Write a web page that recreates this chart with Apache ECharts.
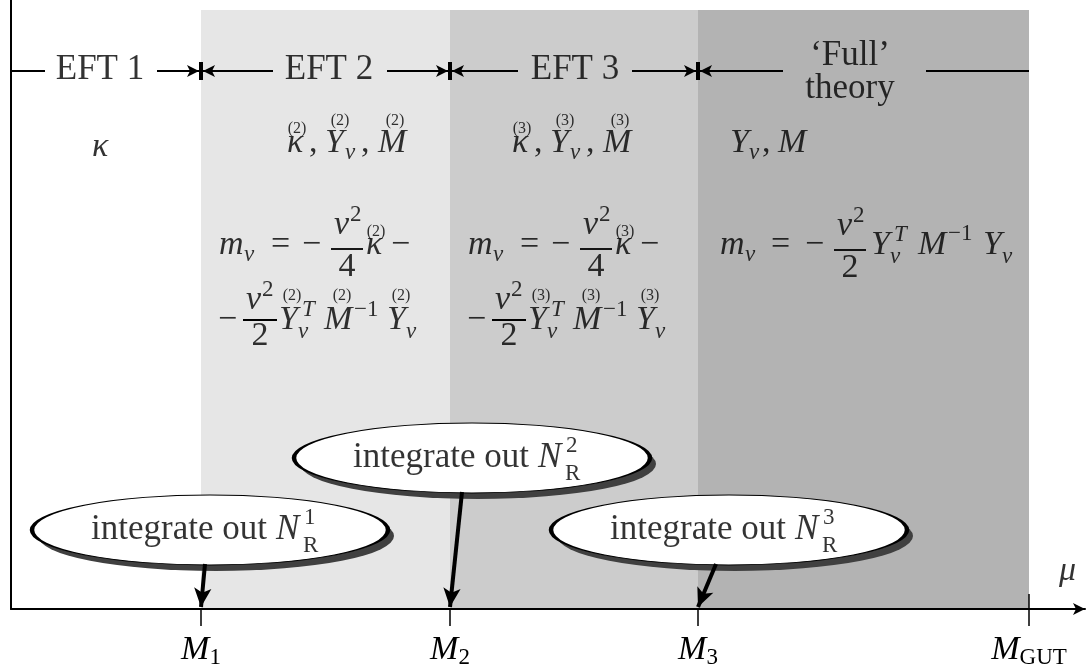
<!DOCTYPE html>
<html><head><meta charset="utf-8">
<script src="https://cdn.jsdelivr.net/npm/echarts@6/dist/echarts.min.js"></script>
<style>html,body{margin:0;padding:0;background:#fff}#c{width:1092px;height:666px}</style>
</head><body><div id="c"></div>
<script>
// ---------------- data ----------------
const thresholdSub = ['1', '2', '3', 'GUT'];          // M_1, M_2, M_3, M_GUT
const thresholdPos = [201, 450, 698, 1029];           // positions on the mu axis
const regionNames = ['EFT 1', 'EFT 2', 'EFT 3', '\u2018Full\u2019\ntheory'];
const regionTags = ['', '(2)', '(3)', ''];
const integratedOut = ['1', '2', '3'];                // N_R^i
const axisMin = 11, axisMax = 1085, plotBottom = 609, bandTop = 10;

// ---------------- style / layout ----------------
const F = 'Liberation Serif';
const S = 34, SS = 23, SA = 16, HS = 35;
const shades = ['#e6e6e6', '#cccccc', '#b3b3b3'];

const texts = [];
function put(txt, x, y, size, o) {
  o = o || {};
  texts.push({
    value: [x, y],
    label: {
      show: true, position: 'inside', formatter: txt,
      fontFamily: F, fontSize: size, fontStyle: o.it ? 'italic' : 'normal',
      color: '#000', align: o.align || 'left', verticalAlign: 'middle',
      lineHeight: o.lh || Math.round(size * 1.2), textBorderWidth: 0
    }
  });
}
function tb(txt, x, base, size, o) { put(txt, x, base - 0.34 * size, size, o); }

const segs = [];
function seg(x1, y1, x2, y2, w, arrow, asz) {
  segs.push([
    { coord: [x1, y1], symbol: 'none', lineStyle: { width: w, color: '#000', type: 'solid', cap: 'butt' } },
    { coord: [x2, y2], symbol: arrow ? 'arrow' : 'none', symbolSize: asz || 0 }
  ]);
}

// header row
const ROW = 71;
const AH = [9, 12];
seg(axisMin, ROW, 45, ROW, 2);
const inStart = [157, 387, 632], outEnd = [273, 518, 783];
for (let i = 0; i < 3; i++) {
  const p = thresholdPos[i];
  seg(inStart[i], ROW, p - 2, ROW, 2, true, AH);
  seg(p, 62, p, 80, 4);
  seg(outEnd[i], ROW, p + 2, ROW, 2, true, AH);
}
seg(926, ROW, thresholdPos[3], ROW, 2);
const headX = [100, 329, 575, 850];
regionNames.forEach((n, i) => {
  if (i < 3) put(n, headX[i], ROW - 1, HS, { align: 'center' });
  else put(n, headX[i], ROW + 1, HS, { align: 'center', lh: 33 });
});

// EFT 1
tb('\u03ba', 92, 159, S, { it: 1 });

// EFT 2 / EFT 3 blocks
function eftBlock(tag, d2, d) {
  // couplings
  tb('\u03ba', 287 + d2, 155, S, { it: 1 }); tb(tag, 297 + d2, 134, SA, { align: 'center' });
  tb(',', 309 + d2, 155, S);
  tb('Y', 325 + d2, 155, S, { it: 1 }); tb(tag, 340 + d2, 126, SA, { align: 'center' });
  tb('\u03bd', 345 + d2, 161, SS, { it: 1 });
  tb(',', 361 + d2, 155, S);
  tb('M', 378 + d2, 155, S, { it: 1 }); tb(tag, 395 + d2, 126, SA, { align: 'center' });
  // m_nu = -v^2/4 kappa -
  tb('m', 219 + d, 257, S, { it: 1 }); tb('\u03bd', 244 + d, 263, SS, { it: 1 });
  tb('=', 271 + d, 257, S);
  tb('\u2212', 302 + d, 257, S);
  seg(331 + d, 249, 363 + d, 249, 1.8);
  tb('v', 334 + d, 237, S, { it: 1 }); tb('2', 350 + d, 223, SS);
  tb('4', 347 + d, 279, S, { align: 'center' });
  tb('\u03ba', 366 + d, 257, S, { it: 1 }); tb(tag, 376 + d, 237, SA, { align: 'center' });
  tb('\u2212', 391 + d, 257, S);
  // - v^2/2 Y^T M^-1 Y
  tb('\u2212', 218 + d, 332, S);
  seg(243 + d, 320, 277 + d, 320, 1.8);
  tb('v', 246 + d, 312, S, { it: 1 }); tb('2', 262 + d, 298, SS);
  tb('2', 260 + d, 348, S, { align: 'center' });
  tb('Y', 279 + d, 332, S, { it: 1 }); tb(tag, 292 + d, 301, SA, { align: 'center' });
  tb('T', 302 + d, 318, SS, { it: 1 }); tb('\u03bd', 298 + d, 340, SS, { it: 1 });
  tb('M', 324 + d, 332, S, { it: 1 }); tb(tag, 342 + d, 301, SA, { align: 'center' });
  tb('\u22121', 354 + d, 318, SS);
  tb('Y', 387 + d, 332, S, { it: 1 }); tb(tag, 401 + d, 301, SA, { align: 'center' });
  tb('\u03bd', 406 + d, 340, SS, { it: 1 });
}
eftBlock(regionTags[1], 0, 0);
eftBlock(regionTags[2], 225, 249);

// Full theory
tb('Y', 730, 155, S, { it: 1 }); tb('\u03bd', 749, 161, SS, { it: 1 });
tb(',', 762, 155, S); tb('M', 778, 155, S, { it: 1 });
tb('m', 720, 257, S, { it: 1 }); tb('\u03bd', 745, 263, SS, { it: 1 });
tb('=', 771, 257, S); tb('\u2212', 805, 257, S);
seg(834, 250, 866, 250, 1.8);
tb('v', 837, 238, S, { it: 1 }); tb('2', 853, 224, SS);
tb('2', 850, 280, S, { align: 'center' });
tb('Y', 871, 257, S, { it: 1 }); tb('T', 894, 243, SS, { it: 1 }); tb('\u03bd', 890, 265, SS, { it: 1 });
tb('M', 918, 257, S, { it: 1 }); tb('\u22121', 948, 242, SS);
tb('Y', 983, 257, S, { it: 1 }); tb('\u03bd', 1002, 265, SS, { it: 1 });

// mu label
tb('\u03bc', 1059, 583, S, { it: 1 });

// MGUT upper tick, axis break
seg(thresholdPos[3], 594, thresholdPos[3], plotBottom, 1.5);
seg(116, 591, 105, 629, 2.5);
seg(136, 591, 125, 629, 2.5);

// ellipses
const ellC = [[210, 530], [472, 458], [729, 530]];
const ellW = 356, ellH = 70;
const ES = 35;
ellC.forEach((c, i) => {
  const cx = c[0], cy = c[1];
  tb('integrate out', cx - 119, cy + 12, ES);
  tb('N', cx + 66, cy + 12, ES, { it: 1 });
  tb(integratedOut[i], cx + 94, cy - 4, SS);
  tb('R', cx + 93, cy + 24, SS);
});
// arrows from ellipses to thresholds
const arrowStart = [[205, 564], [462, 492], [716, 564]];
for (let i = 0; i < 3; i++) {
  seg(arrowStart[i][0], arrowStart[i][1], thresholdPos[i], 607, 4, true, [13, 19]);
}

// shading bands
const bands = [];
for (let i = 0; i < 3; i++) {
  bands.push([
    { xAxis: thresholdPos[i], yAxis: bandTop, itemStyle: { color: shades[i] } },
    { xAxis: thresholdPos[i + 1], yAxis: plotBottom }
  ]);
}

const ellPath = 'path://M0,35A178,35,0,1,1,356,35A178,35,0,1,1,0,35Z';
const chart = echarts.init(document.getElementById('c'), null, { renderer: 'canvas' });
chart.setOption({
  animation: false,
  backgroundColor: '#fff',
  grid: { left: axisMin, right: 1092 - axisMax, top: 0, bottom: 666 - plotBottom, containLabel: false, outerBoundsMode: 'none' },
  xAxis: {
    type: 'value', min: axisMin, max: axisMax, z: 3,
    splitLine: { show: false },
    axisLine: { show: true, onZero: false, symbol: ['none', 'arrow'], symbolSize: [9, 12], lineStyle: { color: '#000', width: 2 } },
    axisTick: { show: true, customValues: thresholdPos, length: 17, lineStyle: { color: '#000', width: 1.5 } },
    axisLabel: {
      show: true, customValues: thresholdPos, margin: 22,
      formatter: function (v) { const i = thresholdPos.indexOf(v); return '{i|M}{s|' + thresholdSub[i] + '}'; },
      rich: {
        i: { fontFamily: F, fontStyle: 'italic', fontSize: S, lineHeight: 38, color: '#000' },
        s: { fontFamily: F, fontSize: SS, lineHeight: 18, verticalAlign: 'bottom', color: '#000' }
      }
    }
  },
  yAxis: {
    type: 'value', min: 0, max: plotBottom, inverse: true, z: 3,
    splitLine: { show: false }, axisTick: { show: false }, axisLabel: { show: false },
    axisLine: { show: true, onZero: false, lineStyle: { color: '#000', width: 2 } }
  },
  series: [
    {
      type: 'scatter', name: 'bands', data: [], silent: true, z: 1,
      markArea: { silent: true, label: { show: false }, data: bands }
    },
    {
      type: 'scatter', name: 'ellipse shadows', silent: true, z: 2, clip: false,
      symbol: ellPath, symbolSize: [ellW, ellH], symbolOffset: [6, 6],
      itemStyle: { color: '#404040', borderWidth: 0, opacity: 1 },
      emphasis: { disabled: true },
      data: ellC
    },
    {
      type: 'scatter', name: 'ellipses', silent: true, z: 3, clip: false,
      symbol: ellPath, symbolSize: [ellW, ellH],
      itemStyle: { color: '#fff', borderColor: '#000', borderWidth: 2, opacity: 1 },
      emphasis: { disabled: true },
      data: ellC
    },
    {
      type: 'scatter', name: 'lines', data: [], silent: true, z: 4,
      markLine: { silent: true, z: 5, symbol: ['none', 'none'], label: { show: false }, emphasis: { disabled: true }, lineStyle: { color: '#000', type: 'solid' }, data: segs }
    },
    {
      type: 'scatter', name: 'texts', silent: true, z: 10, clip: false,
      symbolSize: 0, itemStyle: { color: 'rgba(0,0,0,0)' },
      emphasis: { disabled: true },
      data: texts
    }
  ]
});
</script></body></html>
